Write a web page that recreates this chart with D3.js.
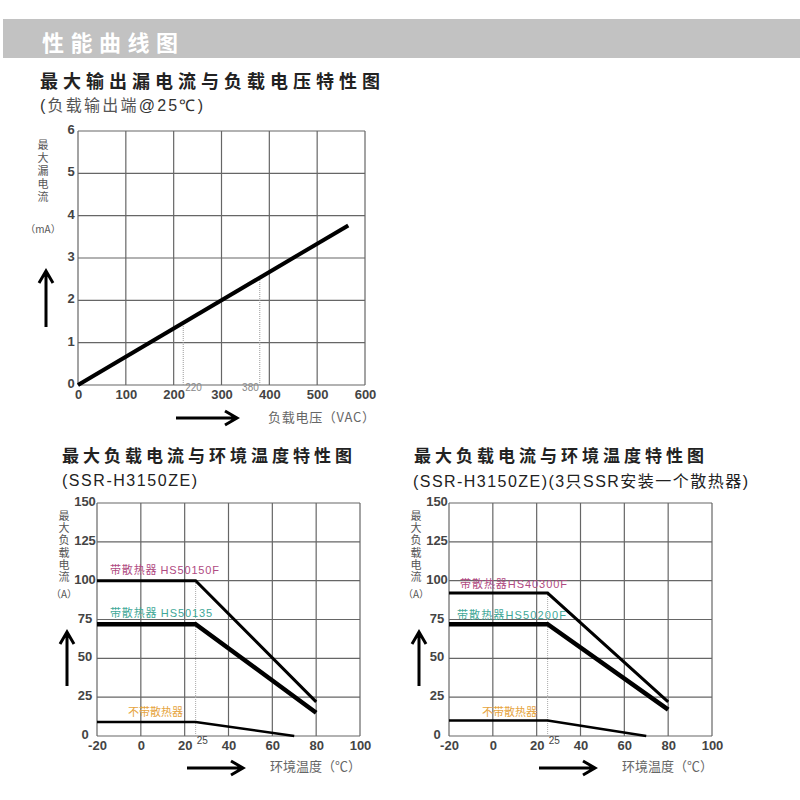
<!DOCTYPE html>
<head>
<meta charset="utf-8">
<title>性能曲线图</title>
<script src="https://d3js.org/d3.v7.min.js"></script>
</head>
<style>
body { margin: 0; background: #fff; }
svg text { font-family: "Liberation Sans", Arial, sans-serif; }
.cjk { font-family: "Noto Sans CJK SC", sans-serif; }
.vert { writing-mode: vertical-rl; text-orientation: upright; }
</style>
<body>
<svg id="chart" width="800" height="800"></svg>
<script>
// ---- data ----
// leakage current vs load voltage
var leakTicksX = [0, 100, 200, 300, 400, 500, 600];
var leakTicksY = [0, 1, 2, 3, 4, 5, 6];
var leakVoltage = [0, 565];
var leakCurrent = [0, 3.77];
var leakMarks = [220, 380];

// load current vs ambient temperature
var tempTicksX = [-20, 0, 20, 40, 60, 80, 100];
var loadTicksY = [0, 25, 50, 75, 100, 125, 150];
var tempBreak = [-20, 25, 80];
var tempNoSink = [-20, 25, 70];

// left chart (single SSR)
var leftNames = ["带散热器 HS50150F", "带散热器 HS50135", "不带散热器"];
var leftBig = [100, 100, 22];
var leftMid = [72, 72, 15];
var leftNone = [9, 9, 0];

// right chart (3 SSR on one heatsink)
var rightNames = ["带散热器HS40300F", "带散热器HS50200F", "不带散热器"];
var rightBig = [92, 92, 22];
var rightMid = [72, 72, 17];
var rightNone = [10, 10, 0];

var svg = d3.select("#chart");

// header band
svg.append("rect").attr("x", 3).attr("y", 19).attr("width", 797).attr("height", 39).attr("fill", "#c2c2c2");
svg.append("text").attr("class", "cjk").attr("x", 42).attr("y", 51)
  .attr("fill", "#fff").style("font-size", "22px").style("font-weight", "bold")
  .attr("textLength", 136).attr("lengthAdjust", "spacing")
  .text("性能曲线图");

function title(x, y, w, size, txt, weight) {
  svg.append("text").attr("class", "cjk").attr("x", x).attr("y", y)
    .attr("fill", "#222").style("font-size", size + "px").style("font-weight", weight || "bold")
    .attr("textLength", w).attr("lengthAdjust", "spacing")
    .text(txt);
}

function arrowUp(x, y0, y1) {
  svg.append("path").attr("d", "M" + x + "," + y0 + "V" + y1 + "M" + (x - 7) + "," + (y1 + 12) + "L" + x + "," + y1 + "L" + (x + 7) + "," + (y1 + 12))
    .attr("fill", "none").attr("stroke", "#000").attr("stroke-width", 3);
}
function arrowRight(x0, x1, y) {
  svg.append("path").attr("d", "M" + x0 + "," + y + "H" + x1 + "M" + (x1 - 12) + "," + (y - 7) + "L" + x1 + "," + y + "L" + (x1 - 12) + "," + (y + 7))
    .attr("fill", "none").attr("stroke", "#000").attr("stroke-width", 3);
}

// vertical axis title written top to bottom, unit underneath
function vertLabel(x, yTop, gap, chars, unit, unitY) {
  svg.append("text").attr("class", "cjk vert").attr("x", x).attr("y", yTop)
    .attr("fill", "#555").style("font-size", "11px").style("letter-spacing", gap + "px").text(chars);
  svg.append("text").attr("class", "cjk").attr("x", x).attr("y", unitY)
    .attr("text-anchor", "middle").attr("fill", "#555").style("font-size", "10px").text(unit);
}

// grid + tick labels; yOff = distance from plot edge to centre of y labels
function grid(g, x, y, tx, ty, yOff) {
  g.selectAll(".gx").data(tx).enter().append("line")
    .attr("x1", function(d) { return x(d); }).attr("x2", function(d) { return x(d); })
    .attr("y1", y.range()[0]).attr("y2", y.range()[1])
    .attr("stroke", "#666").attr("stroke-width", 1.2);
  g.selectAll(".gy").data(ty).enter().append("line")
    .attr("y1", function(d) { return y(d); }).attr("y2", function(d) { return y(d); })
    .attr("x1", x.range()[0]).attr("x2", x.range()[1])
    .attr("stroke", "#666").attr("stroke-width", 1.2);
  var fmt = function(d) { return String(d); };
  g.append("g").attr("transform", "translate(0," + y.range()[0] + ")")
    .call(d3.axisBottom(x).tickValues(tx).tickFormat(fmt).tickSize(0).tickPadding(5))
    .call(function(a) { a.select(".domain").remove(); })
    .selectAll("text").attr("fill", "#444").style("font-size", "13px").style("font-weight", "bold")
    .style("font-family", "Liberation Sans, Arial, sans-serif");
  g.append("g").attr("transform", "translate(" + (x.range()[0] - yOff) + ",0)")
    .call(d3.axisLeft(y).tickValues(ty).tickFormat(fmt).tickSize(0).tickPadding(0))
    .call(function(a) { a.select(".domain").remove(); })
    .selectAll("text").attr("text-anchor", "middle").attr("dy", "0.2em")
    .attr("fill", "#444").style("font-size", "13px").style("font-weight", "bold")
    .style("font-family", "Liberation Sans, Arial, sans-serif");
}

// ---- top chart ----
title(40, 88, 340, 18, "最大输出漏电流与负载电压特性图");
svg.append("text").attr("x", 40).attr("y", 111).attr("fill", "#333").style("font-size", "16px")
  .attr("textLength", 163).attr("lengthAdjust", "spacing")
  .html('(<tspan class="cjk" fill="#555">负载输出端</tspan>@25℃)');

var x1 = d3.scaleLinear().domain([0, 600]).range([78, 365]);
var y1 = d3.scaleLinear().domain([0, 6]).range([385, 131]);
var g1 = svg.append("g");
grid(g1, x1, y1, leakTicksX, leakTicksY, 7);

var slope = leakCurrent[1] / leakVoltage[1];
g1.selectAll(".mark").data(leakMarks).enter().append("line")
  .attr("x1", function(d) { return x1(d); }).attr("x2", function(d) { return x1(d); })
  .attr("y1", y1(0)).attr("y2", function(d) { return y1(d * slope); })
  .attr("stroke", "#999").attr("stroke-width", 1).attr("stroke-dasharray", "1,1");
g1.append("text").attr("x", x1(220) + 2).attr("y", 391).attr("fill", "#888").style("font-size", "10px").text("220");
g1.append("text").attr("x", x1(380) - 1).attr("y", 391).attr("text-anchor", "end").attr("fill", "#888").style("font-size", "10px").text("380");

g1.append("path").datum(d3.zip(leakVoltage, leakCurrent))
  .attr("d", d3.line().x(function(d) { return x1(d[0]); }).y(function(d) { return y1(d[1]); }))
  .attr("fill", "none").attr("stroke", "#000").attr("stroke-width", 4);

vertLabel(43, 139, 2, "最大漏电流", "（mA）", 233);
arrowUp(46, 327, 271);
arrowRight(176, 237, 418);
svg.append("text").attr("class", "cjk").attr("x", 268).attr("y", 422).attr("fill", "#666")
  .style("font-size", "13px").attr("textLength", 107).attr("lengthAdjust", "spacing").text("负载电压（VAC）");

// ---- bottom charts ----
var nameColors = ["#b04a82", "#3fa898", "#e6a440"];

function tempChart(cfg) {
  var x = d3.scaleLinear().domain([-20, 100]).range([cfg.left, cfg.left + 263]);
  var y = d3.scaleLinear().domain([0, 150]).range([736, 503]);
  var g = svg.append("g");
  grid(g, x, y, tempTicksX, loadTicksY, 12);

  g.append("line").attr("x1", x(25)).attr("x2", x(25)).attr("y1", y(0)).attr("y2", y(cfg.big[1]))
    .attr("stroke", "#aaa").attr("stroke-width", 1).attr("stroke-dasharray", "1,1");
  g.append("text").attr("x", x(25) + 1).attr("y", 744).attr("fill", "#444").style("font-size", "10px").text("25");

  var line = d3.line().x(function(d) { return x(d[0]); }).y(function(d) { return y(d[1]); });
  [[tempBreak, cfg.big, 3], [tempBreak, cfg.mid, 4.5], [tempNoSink, cfg.none, 2.5]].forEach(function(s) {
    g.append("path").datum(d3.zip(s[0], s[1])).attr("d", line)
      .attr("fill", "none").attr("stroke", "#000").attr("stroke-width", s[2]);
  });

  cfg.names.forEach(function(n, i) {
    var p = cfg.labels[i];
    g.append("text").attr("x", p[0]).attr("y", p[1]).attr("fill", nameColors[i])
      .style("font-size", "11px").attr("textLength", p[2]).attr("lengthAdjust", "spacing")
      .html(n.replace(/^([^A-Z]+)/, '<tspan class="cjk">$1</tspan>'));
  });

  title(cfg.left - 35, 462, 290, 17, "最大负载电流与环境温度特性图");
  vertLabel(cfg.left - 33, 510, 1.3, "最大负载电流", "（A）", 598);
  arrowUp(cfg.left - 30, 686, 632);
  arrowRight(cfg.left + 90, cfg.left + 146, 768);
  svg.append("text").attr("class", "cjk").attr("x", cfg.left + 173).attr("y", 771).attr("fill", "#666")
    .style("font-size", "13px").attr("textLength", 91).attr("lengthAdjust", "spacing").text("环境温度（℃）");
}

tempChart({ left: 97, big: leftBig, mid: leftMid, none: leftNone, names: leftNames,
  labels: [[110, 574, 109], [110, 617, 102], [128, 716, 55]] });
tempChart({ left: 449, big: rightBig, mid: rightMid, none: rightNone, names: rightNames,
  labels: [[460, 588, 107], [457, 619, 109], [482, 716, 55]] });

// subtitles
svg.append("text").attr("x", 62).attr("y", 486).attr("fill", "#222").style("font-size", "16px")
  .attr("textLength", 135).attr("lengthAdjust", "spacing").text("(SSR-H3150ZE)");
svg.append("text").attr("x", 413).attr("y", 487).attr("fill", "#222").style("font-size", "16px")
  .attr("textLength", 335).attr("lengthAdjust", "spacing")
  .html('(SSR-H3150ZE)(3<tspan class="cjk">只</tspan>SSR<tspan class="cjk">安装一个散热器</tspan>)');
</script>
</body>
